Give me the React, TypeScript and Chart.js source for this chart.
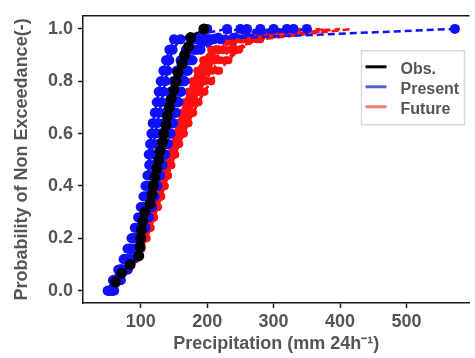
import { useEffect, useRef } from 'react';
import { Chart, registerables } from 'chart.js';

Chart.register(...registerables);

// ---------------- data ----------------
const obsProb = [
  0.033, 0.067, 0.1, 0.133, 0.167, 0.2, 0.233, 0.267, 0.3, 0.333,
  0.367, 0.4, 0.433, 0.467, 0.5, 0.533, 0.567, 0.6, 0.633, 0.667,
  0.7, 0.733, 0.767, 0.8, 0.833, 0.867, 0.9, 0.933, 0.967, 1.0,
];
const obsPrecip = [
  62, 71, 84, 97, 99, 100, 101, 103, 106, 114,
  117, 119, 121, 124, 127, 129, 133, 135, 138, 140,
  143, 146, 150, 153, 156, 162, 166, 172, 175, 195,
];

const memberProb = [
  0, 0.04, 0.08, 0.12, 0.16, 0.2, 0.24, 0.28, 0.32, 0.36, 0.4, 0.44, 0.48,
  0.52, 0.56, 0.6, 0.64, 0.68, 0.72, 0.76, 0.8, 0.84, 0.88, 0.92, 0.96, 1.0,
];

const present1 = [50, 58, 66, 74, 80, 86, 91, 96, 100, 104, 107, 110, 113, 116, 119, 122, 125, 128, 131, 134, 137, 140, 143, 148, 160, 200];
const present2 = [52, 60, 68, 76, 83, 90, 96, 101, 106, 110, 114, 118, 122, 126, 130, 133, 137, 141, 145, 149, 153, 158, 164, 172, 185, 260];
const present3 = [55, 63, 72, 80, 88, 95, 101, 106, 111, 115, 119, 123, 127, 131, 134, 138, 142, 146, 150, 154, 159, 164, 170, 178, 195, 300];
const present4 = [58, 67, 76, 85, 93, 100, 106, 111, 116, 120, 124, 128, 132, 136, 140, 144, 148, 152, 156, 160, 165, 170, 176, 185, 210, 350];
const present5 = [53, 61, 69, 77, 85, 92, 98, 104, 109, 113, 117, 121, 125, 128, 132, 136, 139, 143, 147, 151, 155, 160, 166, 174, 200, 573];
const present6 = [56, 65, 74, 82, 89, 96, 102, 108, 113, 118, 122, 126, 130, 134, 137, 141, 145, 149, 153, 157, 162, 167, 172, 180, 200, 280];
const present7 = [60, 70, 80, 88, 95, 101, 107, 112, 117, 121, 125, 129, 133, 137, 141, 145, 149, 153, 157, 161, 166, 171, 178, 190, 220, 330];
const present8 = [51, 59, 67, 75, 82, 88, 94, 99, 104, 108, 112, 116, 120, 124, 127, 130, 134, 137, 141, 145, 149, 154, 160, 168, 182, 250];
const present9 = [54, 62, 70, 78, 85, 91, 97, 102, 106, 109, 111, 112, 113, 112, 114, 116, 118, 121, 124, 127, 130, 134, 138, 143, 150, 230];
const present10 = [57, 66, 75, 84, 92, 99, 105, 110, 115, 119, 123, 127, 131, 135, 139, 143, 147, 151, 155, 159, 164, 169, 174, 183, 205, 320];

const future1 = [50, 60, 70, 80, 89, 97, 104, 110, 116, 121, 126, 131, 136, 141, 146, 151, 156, 161, 167, 173, 180, 188, 197, 210, 240, 330];
const future2 = [55, 66, 77, 87, 96, 104, 111, 117, 123, 129, 134, 140, 145, 150, 155, 160, 166, 172, 178, 185, 193, 201, 211, 225, 260, 380];
const future3 = [58, 68, 79, 89, 98, 106, 113, 119, 124, 129, 134, 139, 144, 149, 155, 161, 167, 173, 180, 188, 197, 207, 219, 235, 280, 420];
const future4 = [53, 63, 73, 83, 92, 100, 107, 113, 119, 124, 129, 134, 139, 144, 149, 154, 159, 164, 170, 176, 183, 191, 200, 212, 235, 300];
const future5 = [56, 67, 78, 88, 97, 105, 112, 118, 124, 129, 134, 139, 144, 149, 154, 159, 164, 170, 176, 183, 191, 200, 211, 226, 255, 360];
const future6 = [60, 71, 82, 92, 101, 109, 115, 120, 125, 130, 135, 140, 145, 150, 156, 162, 168, 174, 180, 186, 193, 201, 210, 222, 250, 340];
const future7 = [52, 62, 72, 82, 91, 99, 106, 112, 118, 123, 128, 133, 138, 143, 148, 153, 158, 163, 169, 175, 182, 190, 199, 211, 230, 310];
const future8 = [57, 68, 79, 90, 99, 106, 112, 118, 124, 130, 136, 141, 146, 151, 157, 164, 171, 178, 186, 195, 206, 218, 232, 248, 275, 400];
const future9 = [54, 64, 74, 84, 93, 101, 108, 114, 120, 126, 131, 136, 142, 147, 152, 158, 163, 169, 175, 181, 188, 196, 205, 218, 245, 350];
const future10 = [59, 70, 81, 91, 100, 107, 113, 119, 124, 129, 134, 139, 144, 149, 154, 159, 164, 170, 176, 183, 191, 200, 210, 223, 250, 370];
const future11 = [51, 61, 71, 81, 90, 98, 105, 111, 117, 122, 127, 132, 137, 142, 147, 152, 157, 162, 167, 172, 178, 185, 194, 206, 228, 320];
const future12 = [55, 65, 75, 85, 94, 102, 109, 115, 121, 126, 131, 137, 142, 147, 152, 157, 162, 168, 174, 180, 187, 195, 204, 216, 238, 345];
const future13 = [58, 69, 80, 90, 99, 107, 114, 120, 126, 131, 136, 141, 146, 152, 158, 165, 172, 179, 187, 196, 206, 216, 228, 244, 265, 390];
const future14 = [53, 64, 75, 85, 94, 101, 108, 114, 120, 125, 130, 135, 140, 145, 150, 155, 160, 166, 172, 178, 185, 193, 202, 215, 242, 355];

const presentMembers = [present1, present2, present3, present4, present5, present6, present7, present8, present9, present10];
const futureMembers = [future1, future2, future3, future4, future5, future6, future7, future8, future9, future10, future11, future12, future13, future14];

const xTicks = [100, 200, 300, 400, 500];
const yTicks = [0, 0.2, 0.4, 0.6, 0.8, 1.0];
const legendLabels = ['Obs.', 'Present', 'Future'];
const legendColors = ['#000000', '#4f62d8', '#f07c6c'];

const xTitle = 'Precipitation (mm 24h\u207B\u00B9)';
const yTitle = 'Probability of Non Exceedance(-)';

// ---------------- styles ----------------
const TEXT = '#555555';
const AXIS = '#1a1a1a';
const FONT = "'Liberation Sans', Arial, sans-serif";

const toPoints = (xs: number[], ys: number[]) => xs.map((x, i) => ({ x, y: ys[i] }));

const legendPlugin = {
  id: 'boxLegend',
  afterDraw(chart: any) {
    const { ctx, chartArea } = chart;
    const ca = chartArea;
    ctx.save();
    // top frame line
    ctx.strokeStyle = AXIS;
    ctx.lineWidth = 1.5;
    ctx.beginPath();
    ctx.moveTo(ca.left, ca.top);
    ctx.lineTo(ca.right, ca.top);
    ctx.stroke();

    const bx = ca.right - 108;
    const by = ca.top + 35;
    const bw = 103;
    const bh = 74;
    ctx.fillStyle = 'rgba(255,255,255,0.9)';
    ctx.fillRect(bx, by, bw, bh);
    ctx.strokeStyle = '#d9d9d9';
    ctx.lineWidth = 1.5;
    ctx.strokeRect(bx, by, bw, bh);

    ctx.font = `bold 16px ${FONT}`;
    ctx.textBaseline = 'middle';
    ctx.textAlign = 'left';
    legendLabels.forEach((label, i) => {
      const cy = by + 18 + i * 20;
      ctx.strokeStyle = legendColors[i];
      ctx.lineWidth = 3;
      ctx.beginPath();
      ctx.moveTo(bx + 4, cy - 2);
      ctx.lineTo(bx + 25, cy - 2);
      ctx.stroke();
      ctx.fillStyle = TEXT;
      ctx.fillText(label, bx + 39, cy + 1);
    });
    ctx.restore();
  },
};

export default function App() {
  const canvasRef = useRef<HTMLCanvasElement | null>(null);

  useEffect(() => {
    if (!canvasRef.current) return;

    const datasets: any[] = [];
    datasets.push({
      label: legendLabels[0],
      data: toPoints(obsPrecip, obsProb),
      showLine: true,
      borderColor: '#000000',
      backgroundColor: '#000000',
      borderWidth: 2,
      pointRadius: 5.5,
      pointBorderWidth: 0,
      order: 0,
    });
    presentMembers.forEach((m, i) => {
      datasets.push({
        label: `${legendLabels[1]} ${i + 1}`,
        data: toPoints(m, memberProb),
        showLine: true,
        borderColor: '#1010ff',
        backgroundColor: '#1010ff',
        borderWidth: 2.5,
        borderDash: [7, 4],
        pointRadius: 5,
        pointBorderWidth: 0,
        order: 1,
      });
    });
    futureMembers.forEach((m, i) => {
      datasets.push({
        label: `${legendLabels[2]} ${i + 1}`,
        data: toPoints(m, memberProb),
        showLine: true,
        borderColor: '#ff1010',
        backgroundColor: '#ff1010',
        borderWidth: 2.5,
        borderDash: [7, 4],
        pointRadius: (c: any) => (c.dataIndex >= m.length - 1 ? 0 : 4),
        pointBorderWidth: 0,
        order: 2,
      });
    });

    const tickFont = { family: FONT, size: 18, weight: 'bold' as const };

    const chart = new Chart(canvasRef.current, {
      type: 'scatter',
      data: { datasets },
      plugins: [legendPlugin],
      options: {
        responsive: false,
        animation: false,
        layout: { padding: { top: 7, right: 0, left: 0, bottom: 0 } },
        plugins: { legend: { display: false }, tooltip: { enabled: false } },
        scales: {
          x: {
            type: 'linear',
            min: 13,
            max: 595,
            afterBuildTicks: (s: any) => {
              s.ticks = xTicks.map((v) => ({ value: v }));
            },
            afterFit: (s: any) => {
              s.height = 55;
            },
            ticks: {
              font: tickFont,
              color: TEXT,
              padding: 3,
              maxRotation: 0,
              callback: (v: any) => String(v),
            },
            grid: {
              display: true,
              drawOnChartArea: false,
              drawTicks: true,
              tickLength: 5,
              tickColor: AXIS,
              tickWidth: 1.5,
            },
            border: { display: true, color: AXIS, width: 1.5 },
            title: {
              display: true,
              text: xTitle,
              font: tickFont,
              color: TEXT,
              padding: { top: 0, bottom: 3 },
            },
          },
          y: {
            type: 'linear',
            min: -0.047,
            max: 1.05,
            afterBuildTicks: (s: any) => {
              s.ticks = yTicks.map((v) => ({ value: v }));
            },
            afterFit: (s: any) => {
              s.width = 83;
            },
            ticks: {
              font: tickFont,
              color: TEXT,
              padding: 5,
              callback: (v: any) => Number(v).toFixed(1),
            },
            grid: {
              display: true,
              drawOnChartArea: false,
              drawTicks: true,
              tickLength: 5,
              tickColor: AXIS,
              tickWidth: 1.5,
            },
            border: { display: true, color: AXIS, width: 1.5 },
            title: {
              display: true,
              text: yTitle,
              font: tickFont,
              color: TEXT,
              padding: { top: 11, bottom: 0 },
            },
          },
        },
      },
    });

    return () => chart.destroy();
  }, []);

  return (
    <div style={{ position: 'fixed', left: 0, top: 0, width: 475, height: 358, background: '#ffffff' }}>
      <canvas ref={canvasRef} width={475} height={358} style={{ width: 475, height: 358, display: 'block' }} />
    </div>
  );
}
